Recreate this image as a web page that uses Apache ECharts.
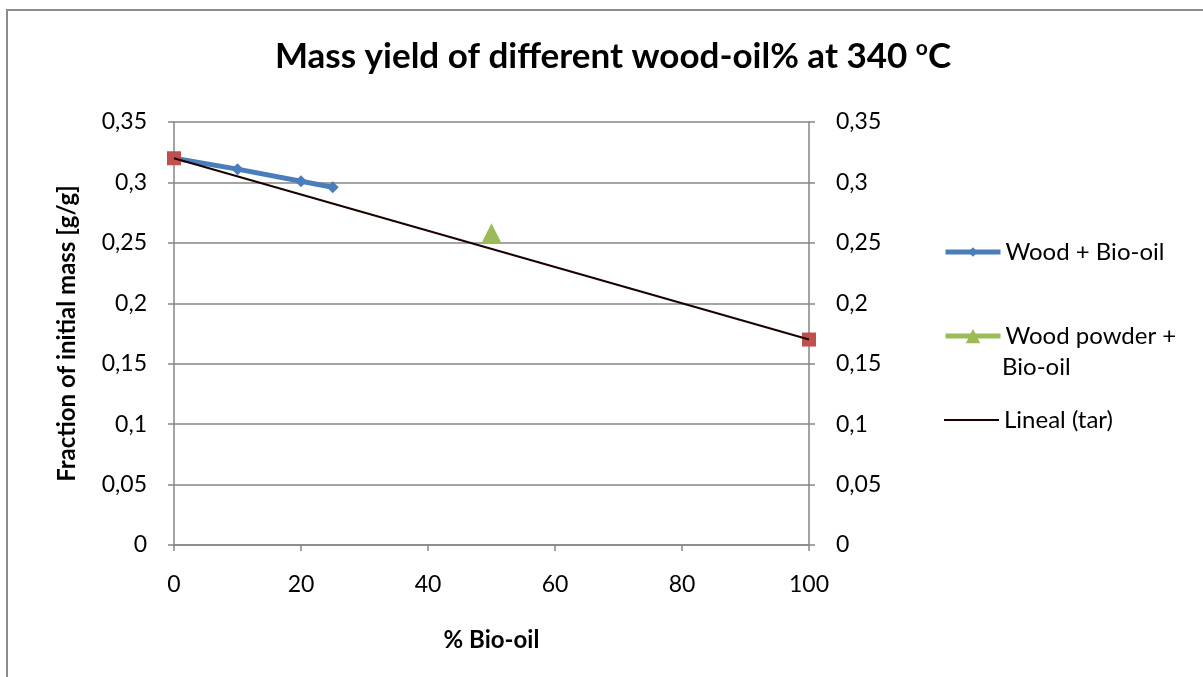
<!DOCTYPE html>
<html><head><meta charset="utf-8">
<script src="https://cdn.jsdelivr.net/npm/echarts@6/dist/echarts.min.js"></script>
<style>html,body{margin:0;padding:0;background:#fff}#c{width:1203px;height:677px}</style>
</head><body><div id="c"></div>
<script>
const woodX = [0, 10, 20, 25];
const woodY = [0.320, 0.311, 0.301, 0.296];
const powderX = [50];
const powderY = [0.258];
const tarX = [0, 100];
const tarY = [0.320, 0.170];
const yTicks = [0, 0.05, 0.1, 0.15, 0.2, 0.25, 0.3, 0.35];

// linear trendline of tar
const n = tarX.length;
const mx = tarX.reduce((a,b)=>a+b,0)/n, my = tarY.reduce((a,b)=>a+b,0)/n;
let sxy=0, sxx=0;
for (let i=0;i<n;i++){ sxy+=(tarX[i]-mx)*(tarY[i]-my); sxx+=(tarX[i]-mx)**2; }
const slope = sxy/sxx, icpt = my - slope*mx;
const trend = [[Math.min(...tarX), icpt+slope*Math.min(...tarX)],[Math.max(...tarX), icpt+slope*Math.max(...tarX)]];

const FONT = 'Lato, "Open Sans", sans-serif';
const gray = '#868686';
const FS = 23;
const fmt = v => String(+v.toFixed(2)).replace('.', ',');

const chart = echarts.init(document.getElementById('c'));
const yAxisBase = {
  type:'value', min:0, max:0.35, interval:0.05,
  axisLine:{show:true, lineStyle:{color:gray, width:1.5}},
  axisTick:{show:true, length:6, lineStyle:{color:gray, width:1.5}},
  axisLabel:{color:'#000', fontSize:FS, fontFamily:FONT, formatter:fmt}
};
const legText = {fontSize:24, color:'#000', fontFamily:FONT};
chart.setOption({
  animation:false,
  textStyle:{fontFamily:FONT},
  title:{
    text:'{a|Mass yield of different wood-oil% at 340 }{s|o}{a|C}',
    left:608, top:33, textAlign:'center',
    textStyle:{rich:{
      a:{fontSize:35, fontWeight:'bold', color:'#000', fontFamily:FONT},
      s:{fontSize:21, fontWeight:'bold', color:'#000', fontFamily:FONT, verticalAlign:'top', padding:[0,0,16,0]}
    }}
  },
  grid:{left:174, right:394, top:122, bottom:132},
  xAxis:{
    type:'value', min:0, max:100, interval:20,
    name:'% Bio-oil', nameLocation:'middle', nameGap:83,
    nameTextStyle:{fontSize:24, fontWeight:'bold', color:'#000', fontFamily:FONT},
    splitLine:{show:false},
    axisLine:{show:true, onZero:false, lineStyle:{color:gray, width:1.5}},
    axisTick:{show:true, length:6, lineStyle:{color:gray, width:1.5}},
    axisLabel:{color:'#000', fontSize:FS, fontFamily:FONT, margin:28}
  },
  yAxis:[
    Object.assign({}, yAxisBase, {
      position:'left',
      name:'Fraction of initial mass [g/g]', nameLocation:'middle', nameGap:95,
      nameTextStyle:{fontSize:24, fontWeight:'bold', color:'#000', fontFamily:FONT},
      splitLine:{show:true, lineStyle:{color:gray, width:1.5}},
      axisLabel:Object.assign({}, yAxisBase.axisLabel, {margin:27})
    }),
    Object.assign({}, yAxisBase, {
      position:'right',
      splitLine:{show:false},
      axisLabel:Object.assign({}, yAxisBase.axisLabel, {margin:27})
    })
  ],
  legend:[
    {data:[{name:'Wood + Bio-oil', lineStyle:{width:5}}], left:943, top:240, padding:0, itemWidth:55, itemHeight:12, itemGap:2, textStyle:legText},
    {data:[{name:'Wood powder +', lineStyle:{width:5}}], left:943, top:324, padding:0, itemWidth:55, itemHeight:18, itemGap:2, textStyle:legText},
    {data:[{name:'Lineal (tar)', itemStyle:{opacity:0}, lineStyle:{width:2}}], left:943, top:408, padding:0, itemWidth:55, itemHeight:14, itemGap:2, textStyle:legText}
  ],
  graphic:[
    {type:'rect', shape:{x:7, y:10, width:1220, height:700}, style:{fill:'none', stroke:'#8c8c8c', lineWidth:2}, silent:true},
    {type:'text', left:1002, top:355, style:{text:'Bio-oil', fontSize:24, fill:'#000', fontFamily:FONT}}
  ],
  series:[
    {name:'tar', type:'scatter', data:tarX.map((x,i)=>[x,tarY[i]]), symbol:'rect', symbolSize:14,
     itemStyle:{color:'#C0504D', opacity:1}, z:5},
    {name:'Wood + Bio-oil', type:'line', data:woodX.map((x,i)=>[x,woodY[i]]), symbol:'diamond', symbolSize:12,
     lineStyle:{color:'#4A7EBB', width:5}, itemStyle:{color:'#4A7EBB'}, z:4},
    {name:'Wood powder +', type:'line', data:powderX.map((x,i)=>[x,powderY[i]]), symbol:'triangle', symbolSize:[20,20],
     lineStyle:{color:'#9BBB59', width:5}, itemStyle:{color:'#9BBB59'}, z:4},
    {name:'Lineal (tar)', type:'line', data:trend, symbol:'none', showSymbol:false,
     lineStyle:{color:'#1a0000', width:2}, itemStyle:{color:'#1a0000'}, z:6}
  ]
});
</script></body></html>
